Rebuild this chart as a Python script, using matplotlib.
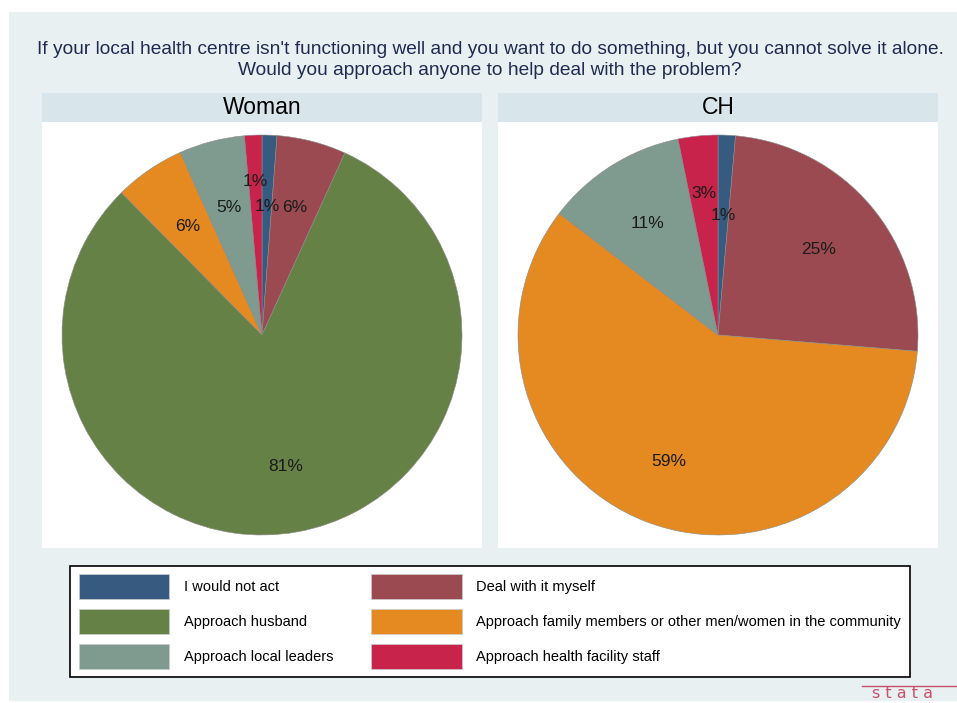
import numpy as np
import matplotlib.pyplot as plt
from matplotlib.patches import Rectangle, Patch

plt.rcParams['font.family'] = ['Liberation Sans', 'DejaVu Sans']

# Categories (Stata order, clockwise from 12 o'clock)
categorias = ['I would not act', 'Deal with it myself', 'Approach husband',
              'Approach family members or other men/women in the community',
              'Approach local leaders', 'Approach health facility staff']
colores = ['#365a80', '#9b4a52', '#668146', '#e58a20', '#7f9a8f', '#c8234a']

paneles = ['Woman', 'CH']
woman = [1.2, 5.6, 80.8, 5.7, 5.3, 1.4]
ch = [1.4, 24.9, 0.0, 59.1, 11.4, 3.2]
valores = [woman, ch]

titulo = ("If your local health centre isn't functioning well and you want to do something, but you cannot solve it alone.\n"
          "Would you approach anyone to help deal with the problem?")

# distancia de cada etiqueta al centro (fracción del radio), para que no se pisen
dist_etiquetas = [[0.645, 0.66, 0.67, 0.66, 0.66, 0.77],
                  [0.60, 0.66, 0.66, 0.68, 0.66, 0.71]]

W, H = 957, 703
fig = plt.figure(figsize=(W / 100, H / 100), dpi=100)
fig.patch.set_facecolor('white')


def fx(px):
    return px / W


def fy(py):
    return 1 - py / H


# fondo gris-azulado
fig.add_artist(Rectangle((fx(9), fy(701)), fx(948), 689 / H, transform=fig.transFigure,
                         facecolor='#e8f0f2', edgecolor='none', zorder=0))

fig.text(fx(490), fy(60), titulo, ha='center', va='center', fontsize=13.8,
         color='#1f2b50', linespacing=1.25)

lefts = [42, 498]
for i, (nombre, vals) in enumerate(zip(paneles, valores)):
    x0 = lefts[i]
    # barra del título del panel
    fig.add_artist(Rectangle((fx(x0), fy(122)), fx(440), 29 / H, transform=fig.transFigure,
                             facecolor='#d8e5eb', edgecolor='none', zorder=1))
    fig.text(fx(x0 + 220), fy(107), nombre, ha='center', va='center', fontsize=16.5, color='black')

    ax = fig.add_axes([fx(x0), fy(548), fx(440), 426 / H])
    idx = [k for k, v in enumerate(vals) if v > 0]
    cols = [colores[k] for k in idx]
    vs = [vals[k] for k in idx]
    wedges, _ = ax.pie(vs, colors=cols, startangle=90, counterclock=False,
                       wedgeprops=dict(linewidth=0.4, edgecolor='#8a8a8a'))
    for k, w, v in zip(idx, wedges, vs):
        ang = np.deg2rad((w.theta1 + w.theta2) / 2)
        r = dist_etiquetas[i][k]
        ax.text(r * np.cos(ang), r * np.sin(ang), f'{round(v):.0f}%', ha='center', va='center',
                fontsize=12.5, color='#1a1a1a')
    ax.set_xlim(-1.1, 1.1)
    ax.set_ylim(-1.065, 1.065)
    ax.set_aspect('equal')
    ax.axis('off')
    ax.add_patch(Rectangle((0, 0), 1, 1, transform=ax.transAxes, facecolor='white',
                           edgecolor='none', zorder=-1))

# leyenda
orden = [0, 2, 4, 1, 3, 5]
handles = [Patch(facecolor=colores[k], edgecolor='#cccccc', linewidth=0.5) for k in orden]
labels = [categorias[k] for k in orden]
leg = fig.legend(handles, labels, ncol=2, loc='center',
                 bbox_to_anchor=(fx(490), fy(621.5)), fontsize=10.5,
                 handlelength=6.2, handleheight=2.2, handletextpad=1.0,
                 columnspacing=2.6, labelspacing=0.72, borderpad=0.6,
                 frameon=True, fancybox=False, edgecolor='black', facecolor='white',
                 framealpha=1)
leg.get_frame().set_linewidth(1.2)

# logo
fig.add_artist(plt.Line2D([fx(862), fx(957)], [fy(686), fy(686)], transform=fig.transFigure,
                          color='#c8506c', linewidth=1.0))
fig.text(fx(903), fy(694), 's t a t a', ha='center', va='center', fontsize=11.5,
         color='#c8506c', family='DejaVu Sans')

plt.savefig('out.png', dpi=100, facecolor=fig.get_facecolor())
